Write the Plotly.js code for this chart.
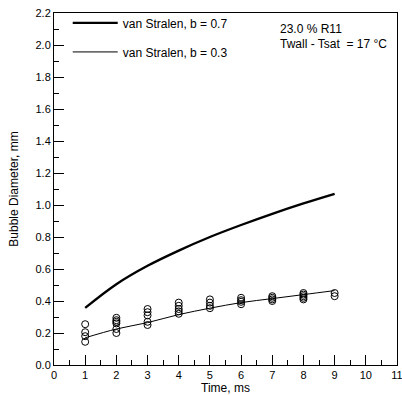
<!DOCTYPE html>
<html>
<head>
<meta charset="utf-8">
<script src="https://cdn.plot.ly/plotly-3.0.1.min.js"></script>
<style>html,body{margin:0;padding:0;background:#fff;}#chart{width:402px;height:395px;}</style>
</head>
<body>
<div id="chart"></div>
<script>
// Model curves (van Stralen)
const timeModel = [1, 2, 3, 4, 5, 6, 7, 8, 9];
const dB07 = [0.357, 0.505, 0.62, 0.715, 0.80, 0.875, 0.945, 1.01, 1.07];
const dB03 = [0.17, 0.225, 0.265, 0.315, 0.355, 0.39, 0.415, 0.44, 0.465];

// Measured bubble diameters
const timeMeas = [1,1,1,1, 2,2,2,2,2,2, 3,3,3,3,3, 4,4,4,4,4, 5,5,5,5, 6,6,6,6, 7,7,7,7, 8,8,8,8,8, 9,9];
const dMeas = [0.255,0.205,0.18,0.145, 0.295,0.28,0.27,0.26,0.225,0.20, 0.35,0.33,0.31,0.27,0.25, 0.39,0.37,0.35,0.335,0.32, 0.41,0.39,0.37,0.355, 0.42,0.405,0.395,0.38, 0.43,0.42,0.41,0.40, 0.45,0.44,0.43,0.42,0.41, 0.45,0.43];

const legendLabels = ['van Stralen, b = 0.7', 'van Stralen, b = 0.3'];
const noteLines = ['23.0 % R11', 'Twall - Tsat  = 17 \u00B0C'];

const traces = [
  {x: timeModel, y: dB07, mode: 'lines', name: legendLabels[0], legendgroup: 'a',
   line: {color: '#000', width: 2.4, shape: 'spline'}},
  {x: timeModel, y: dB03, mode: 'lines', name: legendLabels[1], legendgroup: 'b',
   line: {color: '#000', width: 1, shape: 'spline'}},
  {x: timeMeas, y: dMeas, mode: 'markers', showlegend: false,
   marker: {symbol: 'circle-open', size: 7, color: '#000', line: {width: 1, color: '#000'}}}
];

const font = {family: '"Liberation Sans", Arial, sans-serif', size: 11, color: '#000'};

const layout = {
  width: 402, height: 395,
  margin: {l: 54, r: 5, t: 13, b: 30},
  paper_bgcolor: '#fff', plot_bgcolor: '#fff',
  font: font,
  showlegend: true,
  legend: {x: 0.04, y: 1.013, xanchor: 'left', yanchor: 'top', bgcolor: 'rgba(0,0,0,0)',
           borderwidth: 0, font: {family: font.family, size: 12, color: '#000'},
           tracegroupgap: 10, itemwidth: 45, traceorder: 'grouped'},
  xaxis: {
    range: [0, 11], dtick: 1, tick0: 0, showgrid: false, zeroline: false,
    showline: true, linecolor: '#000', linewidth: 1, mirror: true,
    ticks: 'inside', ticklen: 10, tickwidth: 1, tickcolor: '#000',
    ticklabeloverflow: 'allow',
    minor: {dtick: 0.5, ticks: 'inside', ticklen: 5, tickcolor: '#000', showgrid: false},
    tickfont: {family: font.family, size: 11, color: '#000'},
    title: {text: 'Time, ms', font: {family: font.family, size: 12, color: '#000'}, standoff: 2}
  },
  yaxis: {
    range: [0, 2.2], dtick: 0.2, tick0: 0, tickformat: '.1f', showgrid: false, zeroline: false,
    showline: true, linecolor: '#000', linewidth: 1, mirror: true,
    ticks: 'inside', ticklen: 10, tickwidth: 1, tickcolor: '#000',
    minor: {dtick: 0.1, ticks: 'inside', ticklen: 5, tickcolor: '#000', showgrid: false},
    tickfont: {family: font.family, size: 11, color: '#000'},
    title: {text: 'Bubble Diameter, mm', font: {family: font.family, size: 12, color: '#000'}, standoff: 14}
  },
  annotations: [
    {xref: 'paper', yref: 'paper', x: 0.653, y: 0.955, xanchor: 'left', yanchor: 'middle',
     text: noteLines[0], showarrow: false, font: {family: font.family, size: 12, color: '#000'}},
    {xref: 'paper', yref: 'paper', x: 0.653, y: 0.912, xanchor: 'left', yanchor: 'middle',
     text: noteLines[1], showarrow: false, font: {family: font.family, size: 12, color: '#000'}}
  ]
};

Plotly.newPlot('chart', traces, layout, {staticPlot: true, displayModeBar: false});
</script>
</body>
</html>
